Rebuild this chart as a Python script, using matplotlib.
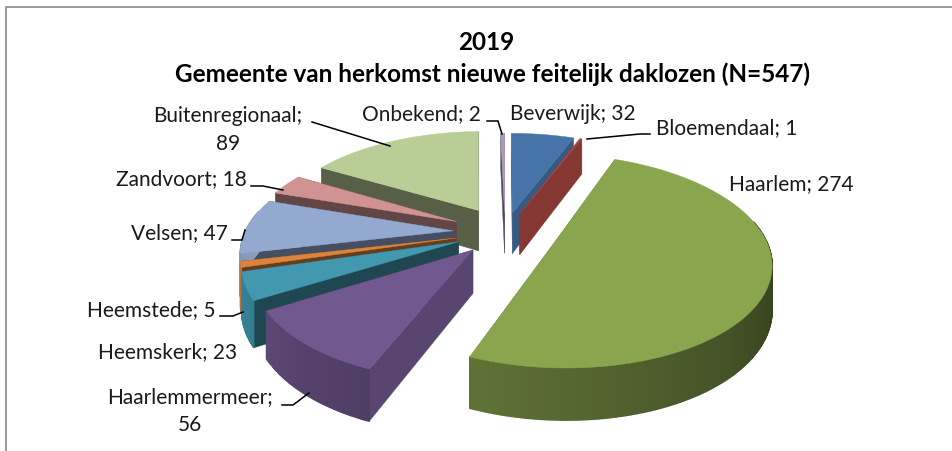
import numpy as np
import matplotlib
matplotlib.use('Agg')
import matplotlib.pyplot as plt
from matplotlib.patches import Polygon

# Data (clockwise from 12 o'clock)
categories = ['Beverwijk', 'Bloemendaal', 'Haarlem', 'Haarlemmermeer', 'Heemskerk',
              'Heemstede', 'Velsen', 'Zandvoort', 'Buitenregionaal', 'Onbekend']
values = [32, 1, 274, 56, 23, 5, 47, 18, 89, 2]
title_lines = ['2019', 'Gemeente van herkomst nieuwe feitelijk daklozen (N=547)']

# Colours of the top faces
top_colors = ['#4674A8', '#AA4643', '#89A54E', '#71588F', '#4198AF',
              '#DB843D', '#93A9CF', '#D19392', '#B9CD96', '#A99BBD']

# Projection settings, in pixels of the picture
CX, CY = 505, 232
RX, RY = 208, 100
PERSP = 0.178
DEPTH = 42
EXPLODE = [0.20, 0.20, 0.255, 0.23, 0.24, 0.24, 0.25, 0.26, 0.26, 0.20]

# Label text, position (centre) and leader line
label_pos = {
    'Beverwijk': (573, 114), 'Bloemendaal': (727, 128), 'Haarlem': (791, 184),
    'Haarlemmermeer': (190, 397), 'Heemskerk': (168, 352), 'Heemstede': (151, 310),
    'Velsen': (179, 233), 'Zandvoort': (181, 179), 'Buitenregionaal': (228, 116),
    'Onbekend': (421, 114),
}
two_lines = ['Haarlemmermeer', 'Buitenregionaal']
leaders = [
    [(487, 121), (498, 121), (502, 134)],
    [(587, 139), (640, 134), (650, 134)],
    [(312, 122), (390, 146)],
    [(251, 186), (263, 186), (283, 190)],
    [(232, 240), (242, 240), (245, 230)],
    [(220, 316), (233, 316), (243, 312)],
    [(282, 405), (293, 405), (309, 393)],
]


def project(x, y, z=0.0):
    s = 1.0 / (1.0 + PERSP * y)
    return CX + RX * x * s, CY - RY * y * s + DEPTH * z * s


def shade(color, f):
    rgb = np.array(matplotlib.colors.to_rgb(color))
    return tuple(rgb * f)


def edge_factor(t):
    return 0.47 if 230 < t < 360 else 0.78


def wall_factor(t):
    return min(0.95, max(0.36, 0.38 + (t - 100) * 0.0031))


fig = plt.figure(figsize=(9.53, 4.51), dpi=100)
ax = fig.add_axes([0, 0, 1, 1])
ax.set_xlim(0, 953)
ax.set_ylim(451, 0)
ax.axis('off')

# Chart frame, only left and top show
ax.plot([6, 6, 953], [451, 7, 7], color='#9A9A9A', lw=1.4, zorder=1)

total = sum(values)
edges = np.concatenate([[0], np.cumsum(values)]) / total * 360
mids = (edges[:-1] + edges[1:]) / 2

# Far slices first, near slices on top
order = sorted(range(len(values)), key=lambda i: -np.cos(np.radians(mids[i])))
z = 2
for i in order:
    t0, t1 = edges[i], edges[i + 1]
    m = np.radians(mids[i])
    ax0 = EXPLODE[i] * np.sin(m)
    ay0 = EXPLODE[i] * np.cos(m)
    ts = np.linspace(t0, t1, max(int((t1 - t0) * 1.5), 2) + 1)
    xs = ax0 + np.sin(np.radians(ts))
    ys = ay0 + np.cos(np.radians(ts))
    color = top_colors[i]

    # flat sides, the farther one first
    sides = [(t0, xs[0], ys[0]), (t1, xs[-1], ys[-1])]
    sides.sort(key=lambda s: -np.cos(np.radians(s[0])))
    for t, px, py in sides:
        pts = [project(ax0, ay0), project(px, py), project(px, py, 1), project(ax0, ay0, 1)]
        c = shade(color, edge_factor(t))
        ax.add_patch(Polygon(pts, closed=True, fc=c, ec=c, lw=0.3, zorder=z))
        z += 1

    # curved side, in small pieces for the shading
    for k in range(len(ts) - 1):
        if np.cos(np.radians((ts[k] + ts[k + 1]) / 2)) > 0.2:
            continue
        pts = [project(xs[k], ys[k]), project(xs[k + 1], ys[k + 1]),
               project(xs[k + 1], ys[k + 1], 1), project(xs[k], ys[k], 1)]
        c = shade(color, wall_factor((ts[k] + ts[k + 1]) / 2))
        ax.add_patch(Polygon(pts, closed=True, fc=c, ec=c, lw=1.0, zorder=z))
    z += 1

    # top face
    top = [project(ax0, ay0)] + [project(a, b) for a, b in zip(xs, ys)]
    ax.add_patch(Polygon(top, closed=True, fc=color, ec=color, lw=0.3, zorder=z))
    z += 1

for line in leaders:
    ax.plot([p[0] for p in line], [p[1] for p in line], color='black', lw=1.1, zorder=z)

# Labels
font = 'Lato'
for name, val in zip(categories, values):
    x, y = label_pos[name]
    if name in two_lines:
        ax.text(x, y, name + ';', ha='center', va='center', fontsize=15,
                family=font, color='#1A1A1A', zorder=z)
        ax.text(x, y + 28, str(val), ha='center', va='center', fontsize=15,
                family=font, color='#1A1A1A', zorder=z)
    else:
        ax.text(x, y, f'{name}; {val}', ha='center', va='center', fontsize=15,
                family=font, color='#1A1A1A', zorder=z)

ax.text(486, 43, title_lines[0], ha='center', va='center', fontsize=17.5,
        family=font, weight='bold', color='black')
ax.text(493, 74, title_lines[1], ha='center', va='center', fontsize=17.5,
        family=font, weight='bold', color='black')

fig.savefig('out.png', dpi=100)
